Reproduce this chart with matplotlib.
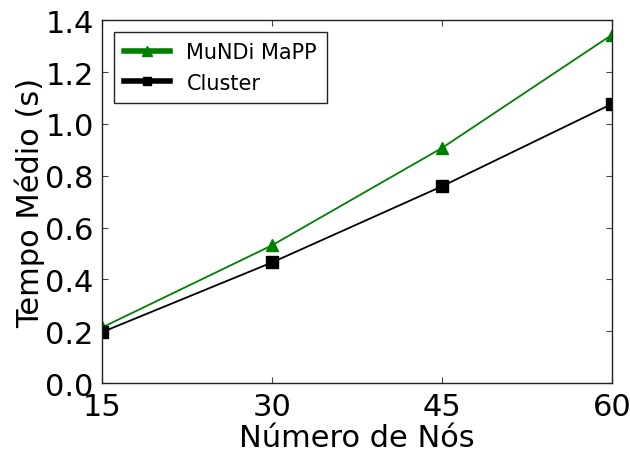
import matplotlib
matplotlib.use('Agg')
from matplotlib import pyplot as plt

nodes = [15, 30, 45, 60]
mundi_mapp = [0.215, 0.532, 0.908, 1.345]
cluster = [0.197, 0.466, 0.760, 1.078]

fig = plt.figure(figsize=(6.3, 4.52), dpi=100)
ax = fig.add_axes([0.162, 0.150, 0.810, 0.803])

ax.plot(nodes, mundi_mapp, color='green', marker='^', markersize=9,
        markeredgecolor='green', linewidth=1.3, label='MuNDi MaPP')
ax.plot(nodes, cluster, color='black', marker='s', markersize=8,
        linewidth=1.3, label='Cluster')

ax.set_xlim(15, 60)
ax.set_ylim(0, 1.4)
ax.set_xticks(nodes)
ax.set_yticks([0.0, 0.2, 0.4, 0.6, 0.8, 1.0, 1.2, 1.4])
ax.set_yticklabels(['0.0', '0.2', '0.4', '0.6', '0.8', '1.0', '1.2', '1.4'])
ax.tick_params(direction='in', top=True, right=True, labelsize=22, length=4,
               width=0.8, color='#444444', pad=6)
for s in ax.spines.values():
    s.set_linewidth(1.0)
    s.set_color('#222222')

ax.set_xlabel('Número de Nós', fontsize=22, labelpad=2)
ax.set_ylabel('Tempo Médio (s)', fontsize=22, labelpad=0)

leg = ax.legend(loc='upper left', fontsize=15, fancybox=False, framealpha=1,
                edgecolor='#222222', borderaxespad=0.55, handlelength=2.2,
                markerscale=0.75, borderpad=0.5)
leg.get_frame().set_linewidth(1.0)
for line in leg.get_lines():
    line.set_linewidth(4)

plt.savefig('out.png', dpi=100)
